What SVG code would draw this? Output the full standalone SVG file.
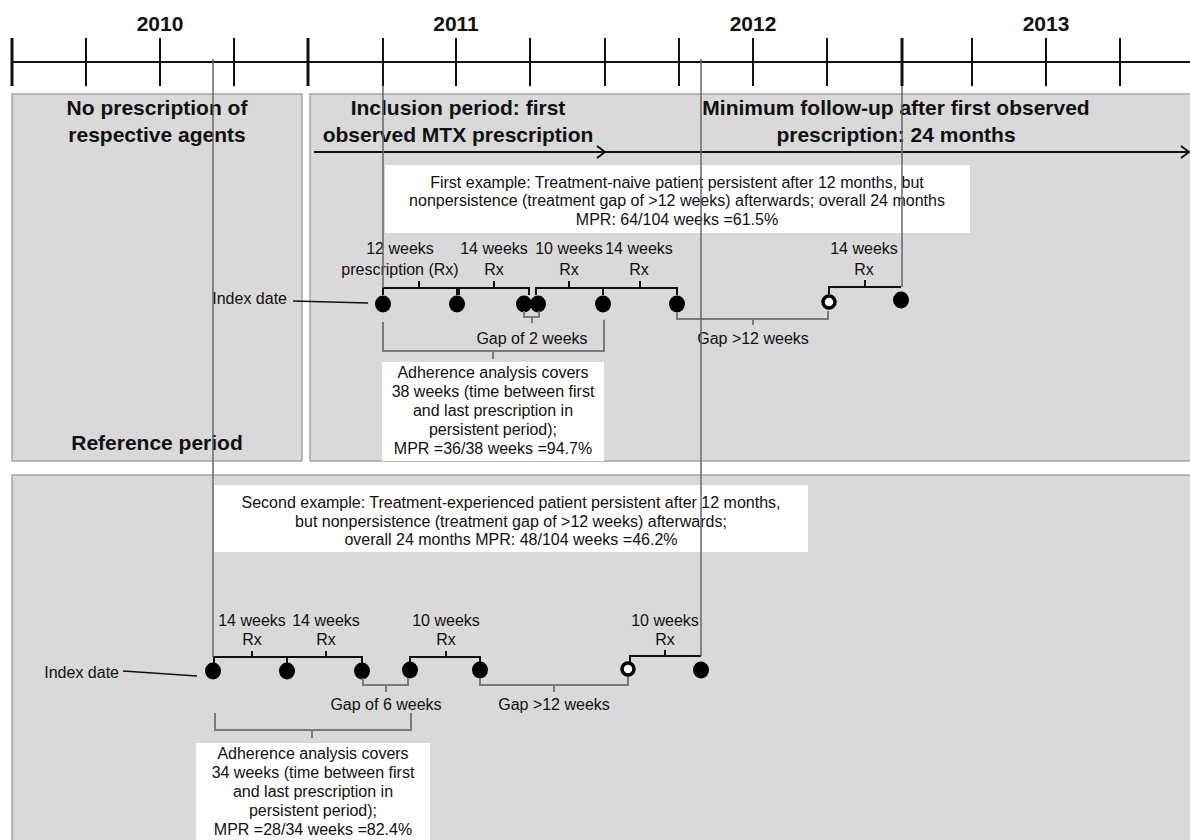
<svg xmlns="http://www.w3.org/2000/svg" width="1190" height="840" viewBox="0 0 1190 840">
<style>
.yr{font-family:'Liberation Sans',Arial,sans-serif;font-weight:bold;font-size:21px;text-anchor:middle;fill:#111}
.hd{font-family:'Liberation Sans',Arial,sans-serif;font-weight:bold;font-size:21px;text-anchor:middle;fill:#111}
.t{font-family:'Liberation Sans',Arial,sans-serif;font-size:16px;text-anchor:middle;fill:#111}
.te{font-family:'Liberation Sans',Arial,sans-serif;font-size:16px;text-anchor:end;fill:#111}
.panel{fill:#d9d9d9;stroke:#a6a6a6;stroke-width:1.5}
.box{fill:#fff}
.tick{stroke:#111;stroke-width:2}
.tk{stroke:#111;stroke-width:3}
.br{fill:none;stroke:#111;stroke-width:2}
.gb{fill:none;stroke:#7a7a7a;stroke-width:2}
.cn{fill:none;stroke:#666;stroke-width:1.5}
.ar{fill:none;stroke:#111;stroke-width:2}
.dot{fill:#000}
.odot{fill:#fff;stroke:#000;stroke-width:3.5}
</style>
<rect width="1190" height="840" fill="#fff"/>

<g id="timeline">
<line x1="12" y1="62" x2="1190" y2="62" class="tick"/>
<line x1="12" y1="38" x2="12" y2="86" class="tk"/>
<line x1="86" y1="38" x2="86" y2="86" class="tick"/>
<line x1="160" y1="38" x2="160" y2="86" class="tick"/>
<line x1="234" y1="38" x2="234" y2="86" class="tick"/>
<line x1="308" y1="38" x2="308" y2="86" class="tk"/>
<line x1="383" y1="38" x2="383" y2="86" class="tick"/>
<line x1="456" y1="38" x2="456" y2="86" class="tick"/>
<line x1="530" y1="38" x2="530" y2="86" class="tick"/>
<line x1="605" y1="38" x2="605" y2="86" class="tick"/>
<line x1="679" y1="38" x2="679" y2="86" class="tick"/>
<line x1="753" y1="38" x2="753" y2="86" class="tick"/>
<line x1="827" y1="38" x2="827" y2="86" class="tick"/>
<line x1="902" y1="38" x2="902" y2="86" class="tk"/>
<line x1="972" y1="38" x2="972" y2="86" class="tick"/>
<line x1="1046" y1="38" x2="1046" y2="86" class="tick"/>
<line x1="1120" y1="38" x2="1120" y2="86" class="tick"/>
<text x="160" y="31" class="yr">2010</text>
<text x="456" y="31" class="yr">2011</text>
<text x="753" y="31" class="yr">2012</text>
<text x="1046" y="31" class="yr">2013</text>
</g>

<g id="reference-panel">
<rect x="12" y="94" width="290" height="367" class="panel"/>
<text x="157" y="115" class="hd">No prescription of</text>
<text x="157" y="142" class="hd">respective agents</text>
<text x="157" y="450" class="hd">Reference period</text>
</g>

<g id="followup-panel">
<rect x="310" y="94" width="882" height="367" class="panel"/>
<text x="458" y="115" class="hd">Inclusion period: first</text>
<text x="458" y="142" class="hd">observed MTX prescription</text>
<text x="896" y="115" class="hd">Minimum follow-up after first observed</text>
<text x="896" y="142" class="hd">prescription: 24 months</text>
<line x1="314" y1="152" x2="1189" y2="152" class="ar"/>
<path d="M597,146 L605,152 L597,158" class="ar"/>
<path d="M1181,146 L1189,152 L1181,158" class="ar"/>
</g>

<g id="example2-panel">
<rect x="12" y="475" width="1180" height="367" class="panel"/>
</g>

<g id="example1">
<rect x="385" y="165" width="585" height="68" class="box"/>
<text x="677" y="188" class="t">First example: Treatment-naive patient persistent after 12 months, but</text>
<text x="677" y="206" class="t">nonpersistence (treatment gap of &gt;12 weeks) afterwards; overall 24 months</text>
<text x="677" y="225" class="t">MPR: 64/104 weeks =61.5%</text>

<text x="400" y="254" class="t">12 weeks</text>
<text x="400" y="275" class="t">prescription (Rx)</text>
<text x="494" y="254" class="t">14 weeks</text>
<text x="494" y="275" class="t">Rx</text>
<text x="569" y="254" class="t">10 weeks</text>
<text x="569" y="275" class="t">Rx</text>
<text x="639" y="254" class="t">14 weeks</text>
<text x="639" y="275" class="t">Rx</text>
<text x="864" y="254" class="t">14 weeks</text>
<text x="864" y="275" class="t">Rx</text>

<path d="M383,295 V288 H457 V295 M419,288 V281" class="br"/>
<path d="M459,295 V288 H529 V295 M494,288 V281" class="br"/>
<path d="M536,295 V288 H677 V295 M603,288 V295 M569,288 V281 M640,288 V281" class="br"/>
<path d="M829,294 V287 H901 M865,287 V280" class="br"/>

<text x="287" y="304" class="te">Index date</text>
<line x1="293" y1="301" x2="368" y2="303" stroke="#111" stroke-width="1.5"/>

<ellipse cx="383" cy="304" rx="8" ry="8.5" class="dot"/>
<ellipse cx="457" cy="304" rx="8" ry="8.5" class="dot"/>
<ellipse cx="524" cy="304" rx="8" ry="8.5" class="dot"/>
<ellipse cx="538" cy="304" rx="8" ry="8.5" class="dot"/>
<ellipse cx="603" cy="304" rx="8" ry="8.5" class="dot"/>
<ellipse cx="677" cy="304" rx="8" ry="8.5" class="dot"/>
<circle cx="829" cy="302" r="6" class="odot"/>
<ellipse cx="901" cy="300" rx="8" ry="8.5" class="dot"/>

<path d="M524,311 V317 H539 V311 M532,317 V323" class="gb"/>
<text x="532" y="344" class="t">Gap of 2 weeks</text>
<path d="M677,312 V319 H828 V311 M753,319 V325" class="gb"/>
<text x="753" y="344" class="t">Gap &gt;12 weeks</text>

<path d="M383,322 V351 H604 V320 M493,351 V359" class="gb"/>
<rect x="382" y="362" width="222" height="99" class="box"/>
<text x="493" y="378" class="t">Adherence analysis covers</text>
<text x="493" y="397" class="t">38 weeks (time between first</text>
<text x="493" y="416" class="t">and last prescription in</text>
<text x="493" y="435" class="t">persistent period);</text>
<text x="493" y="454" class="t">MPR =36/38 weeks =94.7%</text>
</g>

<g id="example2">
<rect x="214" y="485" width="594" height="67" class="box"/>
<text x="511" y="508" class="t">Second example: Treatment-experienced patient persistent after 12 months,</text>
<text x="511" y="527" class="t">but nonpersistence (treatment gap of &gt;12 weeks) afterwards;</text>
<text x="511" y="545" class="t">overall 24 months MPR: 48/104 weeks =46.2%</text>

<text x="252" y="626" class="t">14 weeks</text>
<text x="252" y="645" class="t">Rx</text>
<text x="326" y="626" class="t">14 weeks</text>
<text x="326" y="645" class="t">Rx</text>
<text x="446" y="626" class="t">10 weeks</text>
<text x="446" y="645" class="t">Rx</text>
<text x="665" y="626" class="t">10 weeks</text>
<text x="665" y="645" class="t">Rx</text>

<path d="M214,663 V657 H362 V663 M287,657 V663 M252,657 V651 M326,657 V651" class="br"/>
<path d="M410,663 V657 H480 V663 M446,657 V651" class="br"/>
<path d="M630,662 V656 H701 M665,656 V650" class="br"/>

<text x="119" y="678" class="te">Index date</text>
<line x1="123" y1="671" x2="197" y2="676" stroke="#111" stroke-width="1.5"/>

<ellipse cx="213" cy="671" rx="8" ry="8.5" class="dot"/>
<ellipse cx="287" cy="671" rx="8" ry="8.5" class="dot"/>
<ellipse cx="362" cy="671" rx="8" ry="8.5" class="dot"/>
<ellipse cx="410" cy="670" rx="8" ry="8.5" class="dot"/>
<ellipse cx="480" cy="670" rx="8" ry="8.5" class="dot"/>
<circle cx="628" cy="669" r="6" class="odot"/>
<ellipse cx="701" cy="670" rx="8" ry="8.5" class="dot"/>

<path d="M363,678 V685 H408 V678 M386,685 V692" class="gb"/>
<text x="386" y="710" class="t">Gap of 6 weeks</text>
<path d="M480,678 V685 H628 V677 M554,685 V692" class="gb"/>
<text x="554" y="710" class="t">Gap &gt;12 weeks</text>

<path d="M215,713 V730 H411 V713 M312,730 V738" class="gb"/>
<rect x="196" y="743" width="234" height="99" class="box"/>
<text x="313" y="759" class="t">Adherence analysis covers</text>
<text x="313" y="778" class="t">34 weeks (time between first</text>
<text x="313" y="797" class="t">and last prescription in</text>
<text x="313" y="816" class="t">persistent period);</text>
<text x="313" y="835" class="t">MPR =28/34 weeks =82.4%</text>
</g>

<g id="connectors">
<line x1="213" y1="59" x2="213" y2="657" class="cn"/>
<line x1="383" y1="86" x2="383" y2="288" class="cn"/>
<line x1="701" y1="59" x2="701" y2="656" class="cn"/>
<line x1="902" y1="86" x2="902" y2="287" class="cn"/>
</g>
</svg>
